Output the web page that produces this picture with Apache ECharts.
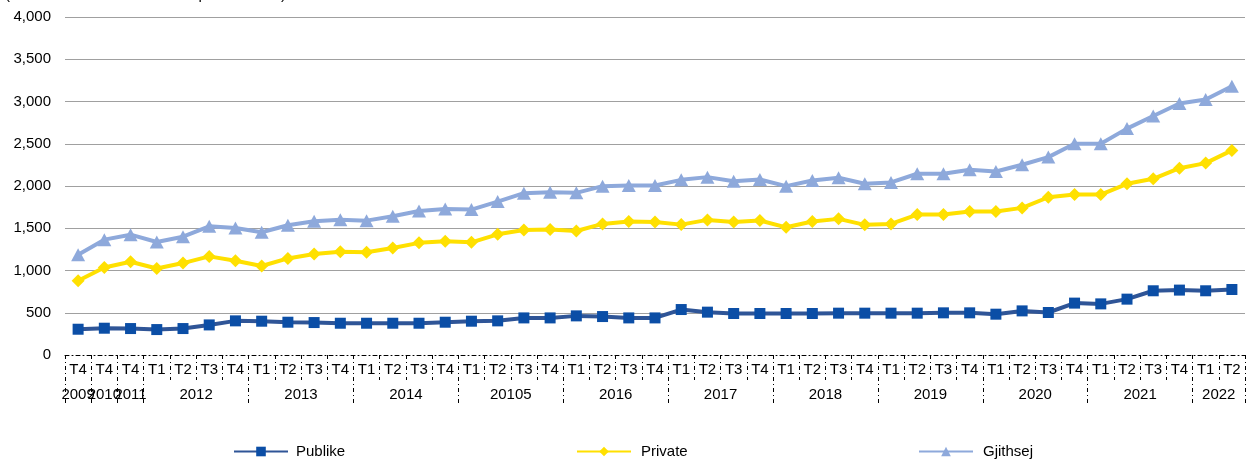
<!DOCTYPE html>
<html>
<head>
<meta charset="utf-8">
<script src="https://cdn.jsdelivr.net/npm/echarts@6/dist/echarts.min.js"></script>
<style>
  html, body { margin: 0; padding: 0; background: #fff; }
  #chart { width: 1249px; height: 466px; }
</style>
</head>
<body>
<div id="chart"></div>
<script>
// Quarter labels (first three points are year-end values)
const quarters = ['T4', 'T4', 'T4',
  'T1','T2','T3','T4', 'T1','T2','T3','T4', 'T1','T2','T3','T4', 'T1','T2','T3','T4',
  'T1','T2','T3','T4', 'T1','T2','T3','T4', 'T1','T2','T3','T4', 'T1','T2','T3','T4',
  'T1','T2','T3','T4', 'T1','T2','T3','T4', 'T1','T2'];

// Year groups: label and number of quarters in each
const yearLabels = ['2009', '2010', '2011', '2012', '2013', '2014', '20105', '2016',
  '2017', '2018', '2019', '2020', '2021', '2022'];
const yearSpans = [1, 1, 1, 4, 4, 4, 4, 4, 4, 4, 4, 4, 4, 2];

const publike = [305, 317, 313, 301, 313, 356, 404, 400, 388, 384, 376, 376, 376, 376,
  388, 400, 404, 439, 439, 463, 455, 439, 439, 538, 507, 491, 491, 491, 491, 495,
  495, 495, 495, 499, 499, 483, 522, 503, 614, 605, 661, 760, 768, 760, 775];

const privateSec = [878, 1036, 1104, 1024, 1088, 1167, 1116, 1053, 1143, 1195, 1223,
  1215, 1266, 1327, 1345, 1333, 1428, 1480, 1484, 1468, 1551, 1579, 1575, 1543,
  1599, 1575, 1591, 1511, 1579, 1611, 1540, 1551, 1662, 1662, 1697, 1697, 1741,
  1867, 1899, 1899, 2026, 2085, 2211, 2271, 2421];

const gjithsej = [1187, 1365, 1424, 1337, 1400, 1523, 1504, 1452, 1535, 1582, 1602,
  1590, 1642, 1705, 1729, 1721, 1816, 1915, 1927, 1919, 1998, 2006, 2006, 2073,
  2105, 2057, 2077, 1998, 2065, 2097, 2026, 2042, 2145, 2145, 2192, 2172, 2252,
  2342, 2501, 2501, 2679, 2829, 2976, 3023, 3181];

// Year boundaries and centres in quarter units along the category axis
const yearBounds = [0];
const yearCentres = [];
const centreToLabel = {};
yearSpans.forEach((n, i) => {
  const start = yearBounds[yearBounds.length - 1];
  const c = start + n / 2;
  yearCentres.push(c);
  centreToLabel[c] = yearLabels[i];
  yearBounds.push(start + n);
});
const total = yearBounds[yearBounds.length - 1];
// blank end labels so the first and last year labels are never dropped
const yearLabelValues = [0].concat(yearCentres, [total]);

const FONT = 'Liberation Sans, Arial, sans-serif';
const DASHDOT = [4, 3, 1, 3];

const chart = echarts.init(document.getElementById('chart'));

chart.setOption({
  animation: false,
  textStyle: { fontFamily: FONT },
  title: {
    text: '(Në milionë euro të dhëna të përkohshme)',
    left: 5, top: -13, padding: 0,
    textStyle: { fontSize: 15, fontWeight: 'normal', color: '#000', fontFamily: FONT }
  },
  grid: { left: 65, right: 4, top: 17, bottom: 111, containLabel: false },
  legend: [
    { data: ['Publike'], left: 233, top: 444, padding: 0, itemWidth: 54, itemHeight: 12,
      itemGap: 0, textStyle: { fontSize: 15, color: '#000', padding: [0, 0, 0, 3] } },
    { data: ['Private'], left: 576, top: 444, padding: 0, itemWidth: 54, itemHeight: 12,
      itemGap: 0, textStyle: { fontSize: 15, color: '#000', padding: [0, 0, 0, 5] } },
    { data: ['Gjithsej'], left: 918, top: 444, padding: 0, itemWidth: 54, itemHeight: 12,
      itemGap: 0, textStyle: { fontSize: 15, color: '#000', padding: [0, 0, 0, 5] } }
  ],
  xAxis: [
    {
      type: 'category',
      data: quarters,
      boundaryGap: true,
      axisLine: { show: true, lineStyle: { color: '#000', width: 1, type: DASHDOT } },
      axisTick: { show: true, interval: 0, length: 25,
        lineStyle: { color: '#000', width: 1, type: DASHDOT } },
      axisLabel: { interval: 0, margin: 7, fontSize: 15, color: '#000', fontFamily: FONT },
      splitLine: { show: false }
    },
    {
      type: 'value',
      position: 'bottom',
      offset: 0,
      min: 0,
      max: total,
      axisLine: { show: false },
      splitLine: { show: false },
      axisTick: { show: true, length: 50, customValues: yearBounds,
        lineStyle: { color: '#000', width: 1, type: DASHDOT } },
      axisLabel: { show: true, margin: 32, fontSize: 15, color: '#000', fontFamily: FONT,
        hideOverlap: false,
        customValues: yearLabelValues,
        formatter: v => centreToLabel[v] || '' }
    }
  ],
  yAxis: {
    type: 'value',
    min: 0, max: 4000, interval: 500,
    axisLine: { show: false },
    axisTick: { show: false },
    axisLabel: { margin: 14, fontSize: 15, color: '#000', fontFamily: FONT,
      formatter: v => v.toLocaleString('en-US') },
    splitLine: { show: true, showMinLine: false, lineStyle: { color: '#a0a0a0', width: 1 } }
  },
  series: [
    {
      name: 'Publike', type: 'line', data: publike, xAxisIndex: 0,
      symbol: 'rect', symbolSize: 11, showAllSymbol: true,
      lineStyle: { color: '#2F5597', width: 4 },
      itemStyle: { color: '#0B4EA6' },
      z: 4
    },
    {
      name: 'Private', type: 'line', data: privateSec, xAxisIndex: 0,
      symbol: 'diamond', symbolSize: [13, 13], showAllSymbol: true,
      lineStyle: { color: '#FFE000', width: 4 },
      itemStyle: { color: '#FFE000' },
      z: 3
    },
    {
      name: 'Gjithsej', type: 'line', data: gjithsej, xAxisIndex: 0,
      symbol: 'triangle', symbolSize: [14, 13], showAllSymbol: true,
      lineStyle: { color: '#8EA9DB', width: 4 },
      itemStyle: { color: '#8EA9DB' },
      z: 2
    }
  ]
});
</script>
</body>
</html>
